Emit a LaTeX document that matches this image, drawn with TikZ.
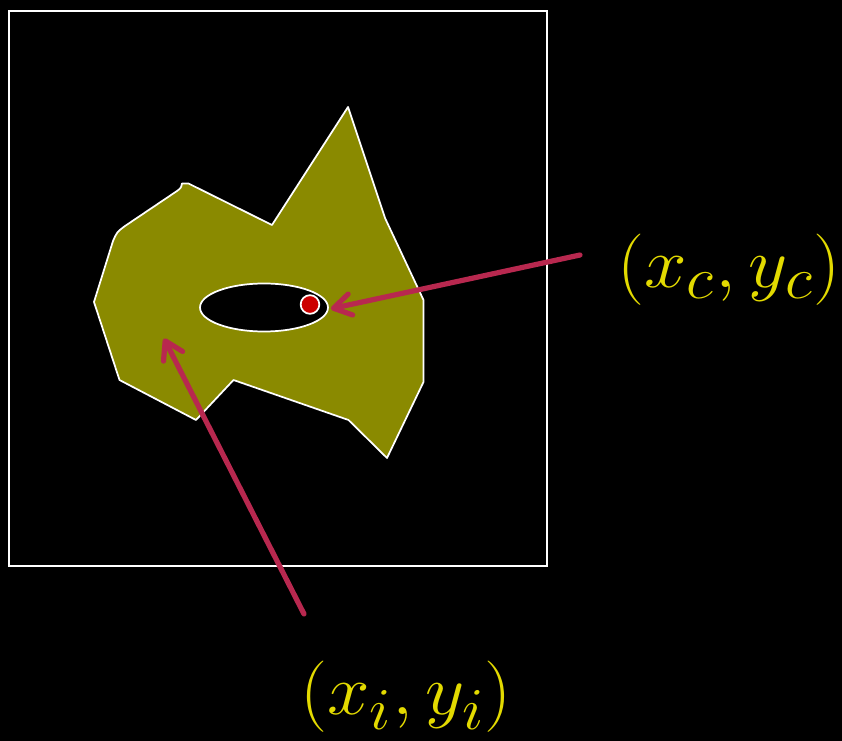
\documentclass[tikz,border=0pt]{standalone}
\usepackage{amsmath}
\usepackage{xcolor}
\usepackage{tikz}
\usetikzlibrary{arrows.meta}
\definecolor{Olive}{HTML}{8A8A00}
\definecolor{Crimson}{HTML}{B8284F}
\definecolor{Dot}{HTML}{CC0000}
\definecolor{Gold}{HTML}{E3DA00}

\begin{document}
\begin{tikzpicture}[x=0.75pt,y=-0.75pt,
  pointer/.style={-{Straight Barb[length=13pt,width=16pt,line width=0pt 1,round]},Crimson,
    line width=3.9pt,line cap=round,line join=round},
  coordlabel/.style={Gold,inner sep=0pt,font=\Huge,scale=2.15,xscale=1.07,transform shape}]
% Background and frame.
\fill[black] (0,0) rectangle (842,741);
\useasboundingbox (0,0) rectangle (842,741);
\draw[white,line width=1.5pt] (8.5,11) rectangle (546.5,565.5);

% Region with a hole.
\draw[white,line width=1.3pt,fill=Olive,line join=round]
  (348,107) -- (385,218) -- (423.5,300) -- (423.5,382) -- (387,458)
  -- (348.5,420) -- (233.5,380) -- (196,420) -- (119.5,380) -- (94,302)
  -- (113,241) .. controls (117,232) .. (125,226) -- (177,191)
  .. controls (181,188) .. (182,183.5) -- (188.5,183.5) -- (272,225) -- cycle;
\draw[white,line width=1.3pt,fill=black] (264,307.5) ellipse [x radius=48pt,y radius=18pt];
\node[circle,fill=Dot,draw=white,line width=1.3pt,minimum size=14pt,inner sep=0pt]
  (centre) at (310,304.5) {};
\coordinate (inside) at (164,338.5);

% Labels and pointers.
\node[coordlabel] (clabel) at (729,270) {$(x_c,y_c)$};
\node[coordlabel] (ilabel) at (406,697) {$(x_i,y_i)$};
\coordinate (ctail) at (580,255);
\coordinate (itail) at (304,614);
\draw[pointer,shorten >=10.5pt] (ctail) -- (centre.south east);
\draw[pointer] (itail) -- (inside);
\end{tikzpicture}
\end{document}
